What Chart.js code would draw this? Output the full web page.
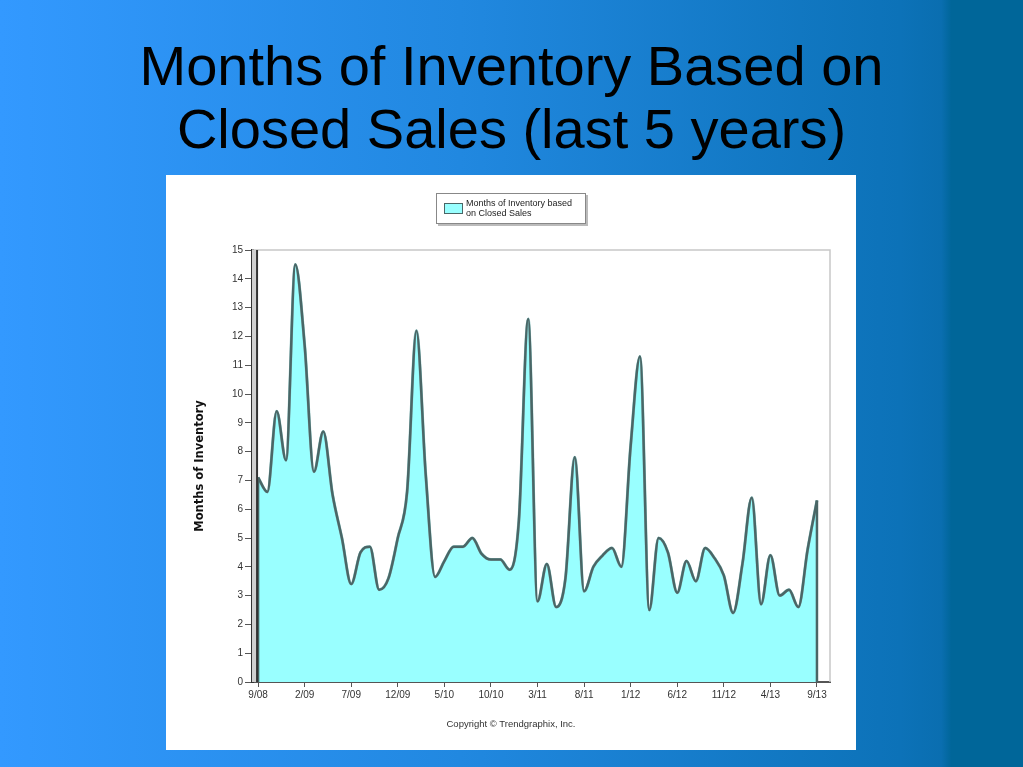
<!DOCTYPE html>
<html>
<head>
<meta charset="utf-8">
<script src="https://cdn.jsdelivr.net/npm/chart.js@4"></script>
<style>
  html, body { margin: 0; padding: 0; }
  body {
    width: 1023px; height: 767px; overflow: hidden; position: relative;
    background: linear-gradient(to right, #3399ff 0%, #2188e0 45%, #0c72b8 88%, #0a6eb0 92%, #006699 93%, #006699 100%);
    font-family: "Liberation Sans", Arial, sans-serif;
  }
  #title {
    position: absolute; left: 0; top: 34px; width: 1023px; text-align: center;
    font-size: 56px; line-height: 63px; color: #000;
  }
  #panel {
    position: absolute; left: 166px; top: 175px; width: 690px; height: 575px; background: #fff;
  }
  #legend {
    position: absolute; left: 270px; top: 18px; width: 148px; height: 29px;
    border: 1px solid #888; box-shadow: 2px 2px 0 #bbb; background: #fff;
    font-size: 9px; line-height: 10px; color: #222;
  }
  #legend .sw {
    position: absolute; left: 7px; top: 9px; width: 17px; height: 9px;
    background: #99ffff; border: 1px solid #4a6666;
  }
  #legend .tx { position: absolute; left: 29px; top: 4px; }
  #copy {
    position: absolute; left: 0; top: 543px; width: 690px; text-align: center;
    font-size: 9.5px; color: #333;
  }
</style>
</head>
<body>
<div id="title">Months of Inventory Based on<br>Closed Sales (last 5 years)</div>
<div id="panel">
  <canvas id="myChart" width="690" height="575"></canvas>
  <div id="legend"><div class="sw"></div><div class="tx">Months of Inventory based<br>on Closed Sales</div></div>
  <div id="copy">Copyright © Trendgraphix, Inc.</div>
</div>
<script>
const months = [
  '9/08','10/08','11/08','12/08','1/09','2/09','3/09','4/09','5/09','6/09','7/09','8/09',
  '9/09','10/09','11/09','12/09','1/10','2/10','3/10','4/10','5/10','6/10','7/10','8/10',
  '9/10','10/10','11/10','12/10','1/11','2/11','3/11','4/11','5/11','6/11','7/11','8/11',
  '9/11','10/11','11/11','12/11','1/12','2/12','3/12','4/12','5/12','6/12','7/12','8/12',
  '9/12','10/12','11/12','12/12','1/13','2/13','3/13','4/13','5/13','6/13','7/13','8/13','9/13'
];
const inventory = [
  7.1, 6.6, 9.4, 7.7, 14.5, 11.7, 7.3, 8.7, 6.5, 5.0, 3.4, 4.5,
  4.7, 3.2, 3.6, 5.0, 6.6, 12.2, 7.2, 3.65, 4.2, 4.7, 4.7, 5.0,
  4.45, 4.25, 4.25, 3.9, 5.6, 12.6, 2.8, 4.1, 2.6, 3.6, 7.8, 3.15,
  4.0, 4.4, 4.65, 4.0, 8.2, 11.3, 2.5, 5.0, 4.5, 3.1, 4.2, 3.5,
  4.65, 4.3, 3.7, 2.4, 4.1, 6.4, 2.7, 4.4, 3.0, 3.2, 2.6, 4.6, 6.3
];
const tickEvery = 5;

const points = inventory.map((v, i) => ({x: i, y: v}));

const edges = {
  id: 'edges',
  beforeDatasetsDraw(chart) {
    const {ctx, chartArea: a} = chart;
    ctx.save();
    ctx.strokeStyle = '#c8c8c8';
    ctx.lineWidth = 1.5;
    ctx.beginPath();
    ctx.moveTo(a.left, a.top); ctx.lineTo(a.right, a.top); ctx.lineTo(a.right, a.bottom);
    ctx.stroke();
    ctx.restore();
  },
  afterDatasetsDraw(chart) {
    const {ctx, scales: {x, y}, chartArea: a} = chart;
    const last = inventory.length - 1;
    ctx.save();
    ctx.strokeStyle = '#4a6666';
    ctx.lineWidth = 2.5;
    ctx.beginPath();
    ctx.moveTo(x.getPixelForValue(0), y.getPixelForValue(0));
    ctx.lineTo(x.getPixelForValue(0), y.getPixelForValue(inventory[0]));
    ctx.moveTo(x.getPixelForValue(last), y.getPixelForValue(0));
    ctx.lineTo(x.getPixelForValue(last), y.getPixelForValue(inventory[last]));
    ctx.stroke();
    // left wall
    ctx.fillStyle = '#d0d0d0';
    ctx.fillRect(a.left, y.getPixelForValue(15), x.getPixelForValue(0) - a.left - 1, y.getPixelForValue(0) - y.getPixelForValue(15));
    ctx.strokeStyle = '#333';
    ctx.lineWidth = 2;
    ctx.beginPath();
    ctx.moveTo(x.getPixelForValue(0) - 1, y.getPixelForValue(15));
    ctx.lineTo(x.getPixelForValue(0) - 1, y.getPixelForValue(0));
    ctx.stroke();
    ctx.restore();
  }
};

new Chart(document.getElementById('myChart'), {
  type: 'line',
  data: {
    datasets: [{
      label: 'Months of Inventory based on Closed Sales',
      data: points,
      borderColor: '#4a6666',
      borderWidth: 2.5,
      fill: false,
      pointRadius: 0,
      cubicInterpolationMode: 'monotone',
      order: 0
    }, {
      label: 'fill',
      data: points,
      borderColor: '#8cc4c4',
      borderWidth: 3,
      backgroundColor: '#99ffff',
      fill: 'origin',
      pointRadius: 0,
      cubicInterpolationMode: 'monotone',
      order: 1
    }]
  },
  plugins: [edges],
  options: {
    responsive: false,
    animation: false,
    layout: {padding: {top: 75, right: 26, bottom: 48, left: 0}},
    plugins: {legend: {display: false}, tooltip: {enabled: false}},
    scales: {
      x: {
        type: 'linear',
        min: -0.65,
        max: 61.4,
        afterBuildTicks: (scale) => {
          scale.ticks = months.map((m, i) => ({value: i})).filter(t => t.value % tickEvery === 0);
        },
        afterFit: (scale) => { scale.height = 20; },
        border: {color: '#555', width: 2},
        grid: {drawOnChartArea: false, tickLength: 5, color: '#555'},
        ticks: {
          autoSkip: false, maxRotation: 0, padding: 2,
          color: '#333', font: {family: 'Liberation Sans', size: 10},
          callback: (v) => months[v]
        }
      },
      y: {
        min: 0,
        max: 15,
        afterFit: (scale) => { scale.width = 86; },
        border: {color: '#333', width: 3},
        grid: {drawOnChartArea: false, tickLength: 7, color: '#555'},
        ticks: {stepSize: 1, padding: 2, color: '#333', font: {family: 'Liberation Sans', size: 10}},
        title: {
          display: true, text: 'Months of Inventory', color: '#111',
          font: {family: 'DejaVu Sans', size: 11.5, weight: 'bold'},
          padding: {top: 27, bottom: 0}
        }
      }
    }
  }
});
</script>
</body>
</html>
